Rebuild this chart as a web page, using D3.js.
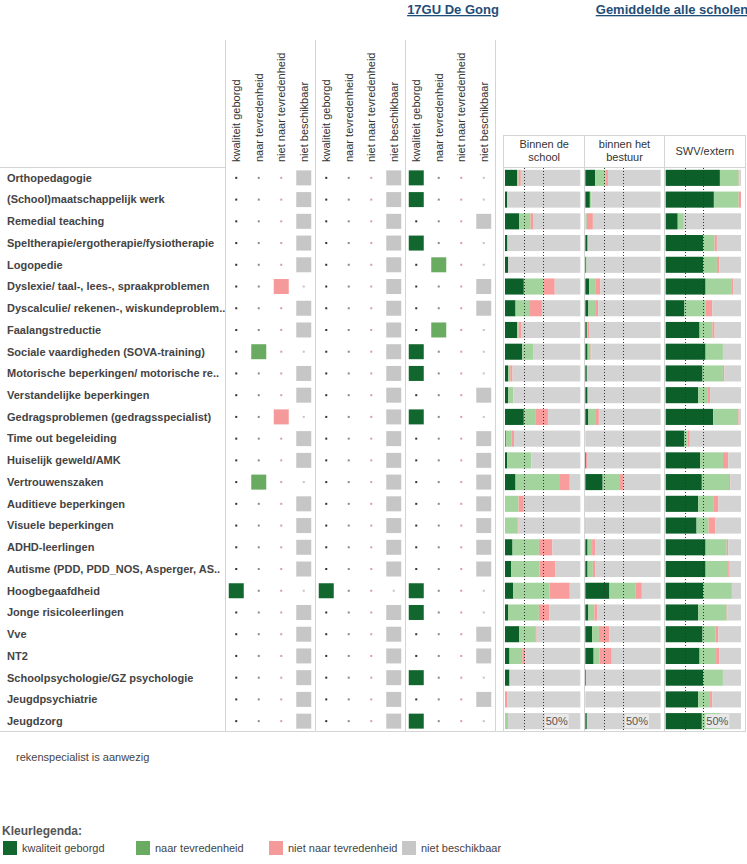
<!DOCTYPE html>
<html>
<head>
<meta charset="utf-8">
<script src="https://cdn.jsdelivr.net/npm/d3@7"></script>
<style>
  body { margin: 0; background: #fff; }
  svg { font-family: "Liberation Sans", Arial, sans-serif; }
</style>
</head>
<body>
<div id="chart"></div>
<script>
// ---------- DATA ----------
const rows = [
  "Orthopedagogie", "(School)maatschappelijk werk", "Remedial teaching",
  "Speltherapie/ergotherapie/fysiotherapie", "Logopedie",
  "Dyslexie/ taal-, lees-, spraakproblemen", "Dyscalculie/ rekenen-, wiskundeproblem..",
  "Faalangstreductie", "Sociale vaardigheden (SOVA-training)",
  "Motorische beperkingen/ motorische re..", "Verstandelijke beperkingen",
  "Gedragsproblemen (gedragsspecialist)", "Time out begeleiding", "Huiselijk geweld/AMK",
  "Vertrouwenszaken", "Auditieve beperkingen", "Visuele beperkingen", "ADHD-leerlingen",
  "Autisme (PDD, PDD_NOS, Asperger, AS..", "Hoogbegaafdheid", "Jonge risicoleerlingen",
  "Vve", "NT2", "Schoolpsychologie/GZ psychologie", "Jeugdpsychiatrie", "Jeugdzorg"
];
const categories = ["kwaliteit geborgd", "naar tevredenheid", "niet naar tevredenheid", "niet beschikbaar"];

// selected category index per row, for each of the three column groups
const group1 = [3,3,3,3,3,2,3,3,1,3,3,2,3,3,1,3,3,3,3,0,3,3,3,3,3,3];
const group2 = [3,3,3,3,3,3,3,3,3,3,3,3,3,3,3,3,3,3,3,0,3,3,3,3,3,3];
const group3 = [0,0,3,0,1,3,3,1,0,0,3,0,3,3,3,3,3,3,3,0,0,3,3,0,3,0];

const panels = ["Binnen de school", "binnen het bestuur", "SWV/extern"];
// percentages (kwaliteit geborgd, naar tevredenheid, niet naar tevredenheid); rest = niet beschikbaar
const schoolKG  = [16,3,19,3,4,25,14,16,23,4,4,25,1,3,14,0,0,10,8,11,4,19,6,6,0,0];
const schoolNT  = [2,0,15,1,0,26,18,2,15,3,7,16,8,32,59,18,17,35,38,48,41,22,17,0,0,4];
const schoolNNT = [3,0,4,0,0,15,17,4,0,3,0,16,3,0,13,7,1,18,21,27,14,1,4,0,3,0];

const bestuurKG  = [13,6,0,3,1,5,4,2,3,2,3,4,0,1,23,0,0,3,3,32,4,9,11,1,0,2];
const bestuurNT  = [14,2,2,0,1,9,9,1,4,0,0,9,0,0,23,1,0,6,7,35,8,9,8,0,0,0];
const bestuurNNT = [3,0,8,0,0,6,4,2,1,0,0,5,0,2,4,0,1,4,3,8,4,14,16,0,0,0];

const swvKG  = [72,64,16,50,50,53,25,45,53,49,43,63,25,46,48,43,41,53,53,50,43,49,45,50,43,48];
const swvNT  = [25,33,7,15,18,34,28,17,23,27,13,33,4,30,36,21,16,28,30,37,38,17,22,26,16,24];
const swvNNT = [1,3,1,3,3,3,9,3,0,2,3,1,3,7,2,6,9,2,2,1,1,4,4,0,3,0];

const refLines = [25, 50];

// ---------- STYLE ----------
const W = 747, H = 864;
const matrixColors = ["#12672f", "#6aab62", "#f59a9a", "#c6c6c6"];
const dotColors = ["#333333", "#8a8a8a", "#d99ab4", "#c4c4c4"];
const barColors = ["#0c5f29", "#a3d49e", "#f89c9c", "#d3d3d3"];
const gridCol = "#d4d4d4";
const textCol = "#444";

const svg = d3.select("#chart").append("svg").attr("width", W).attr("height", H);

const y = d3.scaleBand().domain(rows).range([167, 732]).paddingInner(0.26).paddingOuter(0.13);
const rowBand = d3.scaleBand().domain(rows).range([167, 732]);
const yc = r => rowBand(r) + rowBand.bandwidth() / 2;

// ---------- TITLES ----------
const titles = [
  { text: "17GU De Gong", x: 453 },
  { text: "Gemiddelde alle scholen", x: 672 }
];
svg.selectAll("text.title").data(titles).join("text")
  .attr("class", "title")
  .attr("x", d => d.x).attr("y", 14)
  .attr("text-anchor", "middle")
  .attr("font-size", 13).attr("font-weight", "bold")
  .attr("fill", "#1f4e78")
  .attr("text-decoration", "underline")
  .text(d => d.text);

// ---------- ROW LABELS ----------
svg.append("line").attr("x1", 0).attr("x2", 225).attr("y1", 167.5).attr("y2", 167.5).attr("stroke", gridCol);
svg.append("line").attr("x1", 0).attr("x2", 746).attr("y1", 731.5).attr("y2", 731.5).attr("stroke", gridCol);

svg.selectAll("text.rowlab").data(rows).join("text")
  .attr("class", "rowlab")
  .attr("x", 7).attr("y", d => yc(d)).attr("dy", "0.35em")
  .attr("font-size", 11).attr("font-weight", "bold").attr("fill", textCol)
  .text(d => d);

// ---------- MATRIX ----------
const groups = [group1, group2, group3];
const colKeys = [];
groups.forEach((g, gi) => categories.forEach((c, ci) => colKeys.push(gi + "-" + ci)));
const xCol = d3.scaleBand().domain(colKeys).range([225, 495]);

// group separators
[0, 1, 2, 3].forEach(i => {
  const x = 225 + i * 90;
  svg.append("line").attr("x1", x + 0.5).attr("x2", x + 0.5).attr("y1", 40).attr("y2", 732)
    .attr("stroke", gridCol);
});

// column headers
svg.selectAll("text.colhead").data(colKeys).join("text")
  .attr("class", "colhead")
  .attr("transform", d => `translate(${xCol(d) + xCol.bandwidth() / 2},162) rotate(-90)`)
  .attr("dy", "0.35em")
  .attr("font-size", 11).attr("fill", "#333")
  .text(d => categories[+d.split("-")[1]]);

const cells = [];
groups.forEach((g, gi) => rows.forEach((r, ri) => categories.forEach((c, ci) => {
  cells.push({ row: r, key: gi + "-" + ci, ci, sel: g[ri] === ci });
})));

const sq = 15;
svg.append("g").selectAll("rect").data(cells.filter(d => d.sel)).join("rect")
  .attr("x", d => xCol(d.key) + xCol.bandwidth() / 2 - sq / 2)
  .attr("y", d => yc(d.row) - sq / 2)
  .attr("width", sq).attr("height", sq)
  .attr("fill", d => matrixColors[d.ci]);

svg.append("g").selectAll("rect").data(cells.filter(d => !d.sel)).join("rect")
  .attr("x", d => xCol(d.key) + xCol.bandwidth() / 2 - 1)
  .attr("y", d => yc(d.row) - 1)
  .attr("width", 2).attr("height", 2)
  .attr("fill", d => dotColors[d.ci]);

// ---------- STACKED BARS ----------
const panelData = [
  [schoolKG, schoolNT, schoolNNT],
  [bestuurKG, bestuurNT, bestuurNNT],
  [swvKG, swvNT, swvNNT]
];
const panelX = d3.scaleBand().domain(panels).range([505, 746]);

// header frame
svg.append("line").attr("x1", 504).attr("x2", 746).attr("y1", 135.5).attr("y2", 135.5).attr("stroke", gridCol);
svg.append("line").attr("x1", 504).attr("x2", 746).attr("y1", 167.5).attr("y2", 167.5).attr("stroke", gridCol);
[504, 585, 665, 746].forEach(x => {
  svg.append("line").attr("x1", x - 0.5).attr("x2", x - 0.5).attr("y1", 135).attr("y2", 732).attr("stroke", gridCol);
});

const headerLines = [["Binnen de", "school"], ["binnen het", "bestuur"], ["SWV/extern"]];
panels.forEach((p, pi) => {
  const cx = panelX(p) + panelX.bandwidth() / 2 - 1;
  const lines = headerLines[pi];
  const t = svg.append("text").attr("text-anchor", "middle").attr("font-size", 11).attr("fill", "#333");
  lines.forEach((l, li) => {
    t.append("tspan").attr("x", cx)
      .attr("y", lines.length === 2 ? 148 + li * 12.5 : 155)
      .text(l);
  });

  const x = d3.scaleLinear().domain([0, 100]).range([panelX(p), panelX(p) + panelX.bandwidth() - 5]);
  const arr = panelData[pi];
  const table = rows.map((r, ri) => {
    const kg = arr[0][ri], nt = arr[1][ri], nnt = arr[2][ri];
    return { row: r, kg, nt, nnt, nb: 100 - kg - nt - nnt };
  });
  const stack = d3.stack().keys(["kg", "nt", "nnt", "nb"])(table);
  const g = svg.append("g");
  g.selectAll("g").data(stack).join("g")
    .attr("fill", (d, i) => barColors[i])
    .selectAll("rect").data(d => d).join("rect")
    .attr("x", d => x(d[0]))
    .attr("width", d => Math.max(0, x(d[1]) - x(d[0])))
    .attr("y", d => y(d.data.row))
    .attr("height", y.bandwidth());

  // reference lines
  refLines.forEach(v => {
    g.append("line")
      .attr("x1", Math.round(x(v)) + 0.5).attr("x2", Math.round(x(v)) + 0.5)
      .attr("y1", 168).attr("y2", 731)
      .attr("stroke", "#333").attr("stroke-width", 1)
      .attr("stroke-dasharray", "1,2");
  });
  // 50% label
  const lx = x(50) + 3, ly = yc(rows[rows.length - 1]);
  g.append("rect").attr("x", lx - 1).attr("y", ly - 7).attr("width", 24).attr("height", 14).attr("fill", "#e9e9e9");
  g.append("text").attr("x", lx).attr("y", ly).attr("dy", "0.38em")
    .attr("font-size", 11).attr("fill", "#555").text("50%");
});

// ---------- FOOTNOTE ----------
svg.append("text").attr("x", 16).attr("y", 761).attr("font-size", 11).attr("fill", textCol)
  .text("rekenspecialist is aanwezig");

// ---------- LEGEND ----------
svg.append("text").attr("x", 2).attr("y", 835).attr("font-size", 12).attr("font-weight", "bold")
  .attr("fill", "#555").text("Kleurlegenda:");
const legX = d3.scalePoint().domain(categories).range([3, 402]);
const leg = svg.selectAll("g.leg").data(categories).join("g").attr("class", "leg")
  .attr("transform", d => `translate(${legX(d)},841)`);
leg.append("rect").attr("width", 14).attr("height", 14).attr("fill", (d, i) => matrixColors[i]);
leg.append("text").attr("x", 19).attr("y", 7).attr("dy", "0.36em")
  .attr("font-size", 11).attr("fill", textCol).text(d => d);
</script>
</body>
</html>
